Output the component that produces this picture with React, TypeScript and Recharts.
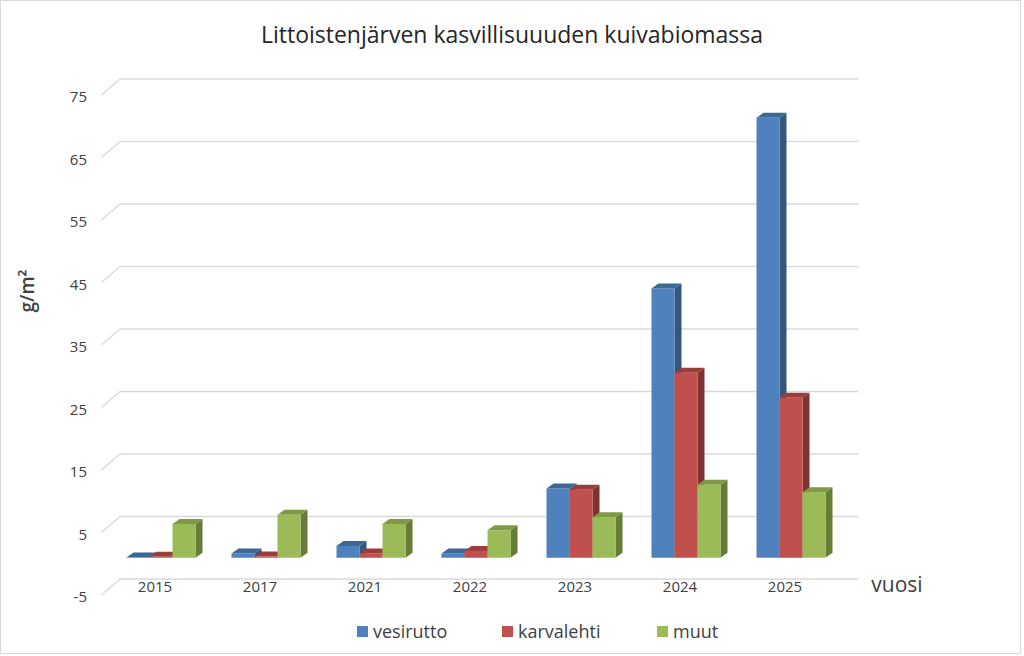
import { BarChart, Bar, XAxis, YAxis, CartesianGrid, Legend } from "recharts";

const years = ["2015", "2017", "2021", "2022", "2023", "2024", "2025"];
const vesirutto = [0.05, 0.7, 1.9, 0.7, 11.1, 43.1, 70.4];
const karvalehti = [0.15, 0.2, 0.7, 1.1, 10.9, 29.6, 25.6];
const muut = [5.4, 6.9, 5.4, 4.4, 6.5, 11.7, 10.5];
const yTicks = [-5, 5, 15, 25, 35, 45, 55, 65, 75];

const data = years.map((year, i) => ({
  year,
  vesirutto: vesirutto[i],
  karvalehti: karvalehti[i],
  muut: muut[i],
}));

const SERIES = [
  { key: "vesirutto", front: "#4f81bd", top: "#3d6795", side: "#34567f", legendW: 145 },
  { key: "karvalehti", front: "#c0504d", top: "#9d3d3a", side: "#803230", legendW: 155 },
  { key: "muut", front: "#9bbb59", top: "#7e9a44", side: "#677d37", legendW: 80 },
];

const FONT = "'Open Sans', sans-serif";
const TEXT = "#404040";
const DX = 7;
const DY = 5;

// front face + top + right side, so the flat bars look like Excel's 3D columns
const make3DBar = (s: (typeof SERIES)[number]) => (props: any) => {
  const { x, y, width, height } = props;
  const w = width;
  const h = Math.max(height, 0);
  return (
    <g>
      <polygon
        points={`${x + w},${y} ${x + w + DX},${y - DY} ${x + w + DX},${y + h - DY} ${x + w},${y + h}`}
        fill={s.side}
      />
      <polygon
        points={`${x},${y} ${x + DX},${y - DY} ${x + w + DX},${y - DY} ${x + w},${y}`}
        fill={s.top}
      />
      <rect x={x} y={y} width={w} height={h} fill={s.front} />
    </g>
  );
};

// back wall line plus the short diagonal on the side wall
const WallLine = (props: any) => {
  const { x1, x2, y1 } = props;
  const yb = y1 - 10;
  return (
    <g key={props.key}>
      <line x1={x1 - 7.5} y1={y1 + 6} x2={x1 + 11} y2={yb} stroke="#d9d9d9" strokeWidth={1.3} />
      <line x1={x1 + 11} y1={yb} x2={x2 + 14.5} y2={yb} stroke="#d9d9d9" strokeWidth={1.3} />
    </g>
  );
};

const YTick = (props: any) => {
  const { x, y, payload } = props;
  return (
    <text x={x - 22} y={y + 7} textAnchor="end" dominantBaseline="central" fontSize={15} fill={TEXT} fontFamily={FONT}>
      {payload.value}
    </text>
  );
};

const XTick = (props: any) => {
  const { x, y, payload } = props;
  return (
    <text x={x - 6.5} y={y - 3} textAnchor="middle" dominantBaseline="central" fontSize={15} fill={TEXT} fontFamily={FONT}>
      {payload.value}
    </text>
  );
};

const LegendContent = () => (
  <div style={{ display: "flex", alignItems: "center", fontFamily: FONT, fontSize: 18, color: TEXT }}>
    {SERIES.map((s) => (
      <span key={s.key} style={{ display: "flex", alignItems: "center", width: s.legendW }}>
        <span style={{ width: 11, height: 11, background: s.front, marginRight: 5, display: "inline-block" }} />
        {s.key}
      </span>
    ))}
  </div>
);

export default function App() {
  return (
    <div style={{ position: "absolute", left: 0, top: 0, width: 1024, height: 656, background: "#fff" }}>
      <div
        style={{
          position: "absolute",
          left: 0,
          top: 0,
          width: 1019,
          height: 652,
          border: "1px solid #d9d9d9",
        }}
      />
      <div
        style={{
          position: "absolute",
          left: 0,
          top: 18,
          width: 1024,
          textAlign: "center",
          fontFamily: FONT,
          fontSize: 23,
          color: "#262626",
        }}
      >
        Littoistenjärven kasvillisuuuden kuivabiomassa
      </div>
      <BarChart
        width={1024}
        height={656}
        data={data}
        margin={{ top: 89, right: 180, bottom: 37, left: 0 }}
        barGap={0}
        barCategoryGap={17.5}
        style={{ position: "absolute", left: 0, top: 0 }}
      >
        <CartesianGrid vertical={false} horizontal={WallLine} />
        <XAxis
          dataKey="year"
          axisLine={false}
          tickLine={false}
          tickSize={0}
          tickMargin={0}
          height={30}
          tick={XTick}
          label={{
            content: () => (
              <text x={897} y={584} textAnchor="middle" dominantBaseline="central" fontSize={21} fill={TEXT} fontFamily={FONT}>
                vuosi
              </text>
            ),
          }}
        />
        <YAxis
          domain={[-5, 75]}
          ticks={yTicks}
          width={109}
          axisLine={false}
          tickLine={false}
          tickSize={0}
          tickMargin={0}
          tick={YTick}
          label={{
            content: () => (
              <text
                x={27}
                y={291}
                transform="rotate(-90 27 291)"
                textAnchor="middle"
                dominantBaseline="central"
                fontSize={19}
                fontWeight={600}
                fill={TEXT}
                fontFamily={FONT}
              >
                g/m²
              </text>
            ),
          }}
        />
        <Legend
          layout="horizontal"
          verticalAlign="middle"
          align="center"
          content={LegendContent}
          wrapperStyle={{ left: 357, top: 619, width: 420 }}
        />
        {SERIES.map((s) => (
          <Bar key={s.key} dataKey={s.key} isAnimationActive={false} shape={make3DBar(s)} />
        ))}
      </BarChart>
    </div>
  );
}
